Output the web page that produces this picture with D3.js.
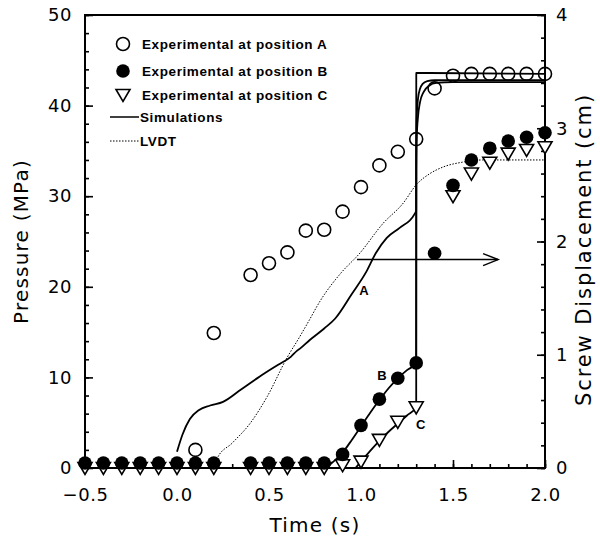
<!DOCTYPE html>
<html><head><meta charset="utf-8">
<script src="https://cdn.jsdelivr.net/npm/d3@7"></script>
<style>body{margin:0;background:#fff;}svg{display:block;}</style>
</head><body><svg id="c" width="600" height="544"></svg>
<script>
// ---- data ----
const expA_t = [0.1,0.2,0.4,0.5,0.6,0.7,0.8,0.9,1.0,1.1,1.2,1.3,1.4,1.5,1.6,1.7,1.8,1.9,2.0];
const expA_p = [2.0,14.9,21.3,22.6,23.8,26.2,26.3,28.3,31.0,33.4,34.9,36.3,41.9,43.3,43.5,43.5,43.5,43.5,43.5];
const expB_t = [-0.5,-0.4,-0.3,-0.2,-0.1,0.0,0.1,0.2,0.4,0.5,0.6,0.7,0.8,0.9,1.0,1.1,1.2,1.3,1.4,1.5,1.6,1.7,1.8,1.9,2.0];
const expB_p = [0.55,0.55,0.55,0.55,0.55,0.55,0.55,0.55,0.55,0.55,0.55,0.55,0.55,1.5,4.7,7.6,9.9,11.6,23.7,31.2,34.0,35.3,36.1,36.5,37.0];
const expC_t = [-0.5,-0.4,-0.3,-0.2,-0.1,0.0,0.1,0.2,0.4,0.5,0.6,0.7,0.8,0.9,1.0,1.1,1.2,1.3,1.5,1.6,1.7,1.8,1.9,2.0];
const expC_p = [0,0,0,0,0,0,0,0,0,0,0,0,0,0.3,0.7,3.1,5.1,6.7,30.0,32.5,33.7,34.7,35.1,35.4];
const simA_t = [0.0,0.03,0.07,0.12,0.18,0.25,0.35,0.45,0.55,0.62,0.65,0.67,0.72,0.8,0.86,0.95,1.03,1.08,1.14,1.21,1.29,1.30,1.3005,2.0];
const simA_p = [1.8,3.7,5.4,6.4,6.9,7.3,8.7,10.1,11.4,12.3,12.9,13.2,14.1,15.4,16.5,19.2,21.7,23.7,25.4,26.5,28.0,28.4,43.6,43.5];
const simB_t = [0.81,0.85,0.9,0.95,1.0,1.05,1.1,1.15,1.2,1.25,1.3,1.3005,1.303,1.31,1.32,1.335,1.36,1.40,2.0];
const simB_p = [0,0.7,1.7,3.1,4.6,6.1,7.5,8.8,9.9,10.8,11.6,36.0,38.8,40.8,41.8,42.4,42.7,42.8,42.8];
const simC_t = [0.97,1.0,1.05,1.1,1.15,1.2,1.25,1.3,1.3005,1.303,1.31,1.32,1.34,1.37,1.41,1.5,2.0];
const simC_p = [0,0.7,1.9,3.0,4.0,4.9,5.8,6.7,33.0,36.5,38.8,40.3,41.5,42.2,42.5,42.6,42.6];
const lvdt_t = [0.2,0.22,0.3,0.4,0.49,0.6,0.66,0.71,0.78,0.89,0.99,1.12,1.23,1.30,1.375,1.45,1.55,1.66,2.0];
const lvdt_cm = [0,0.09,0.22,0.40,0.63,0.98,1.14,1.28,1.48,1.72,1.89,2.16,2.34,2.50,2.60,2.66,2.70,2.72,2.72];
const curveLabels = ["A","B","C"];
const curveLabel_t = [1.016,1.114,1.325];
const curveLabel_p = [19.6,10.3,4.9];
const arrow_t = [0.978,1.745];
const arrow_p = 23.0;
const legendLabels = ["Experimental at position A","Experimental at position B","Experimental at position C","Simulations","LVDT"];
const xTicks = [-0.5,0.0,0.5,1.0,1.5,2.0];
const yTicks = [0,10,20,30,40,50];
const y2Ticks = [0,1,2,3,4];

// ---- layout ----
const L=85,R=545,T=15,B=468;
const svg=d3.select("#c");
const x=d3.scaleLinear().domain([-0.5,2.0]).range([L,R]);
const y=d3.scaleLinear().domain([0,50]).range([B,T]);
const y2=d3.scaleLinear().domain([0,4]).range([B,T]);
const font="'DejaVu Sans', sans-serif";

function styleAxis(g){
  g.select(".domain").remove();
  g.selectAll(".tick line").attr("stroke","#000").attr("stroke-width",1.6);
  g.selectAll("text").attr("font-family",font).attr("font-size",18).attr("fill","#000").attr("letter-spacing",0.6);
}
// minor ticks
svg.append("g").attr("transform",`translate(0,${B})`)
  .call(d3.axisBottom(x).tickValues(d3.range(-5,21).map(d=>d/10)).tickSize(-4).tickFormat("")).call(styleAxis);
svg.append("g").attr("transform",`translate(${L},0)`)
  .call(d3.axisLeft(y).tickValues(d3.range(0,51,2)).tickSize(-4).tickFormat("")).call(styleAxis);
svg.append("g").attr("transform",`translate(${R},0)`)
  .call(d3.axisRight(y2).tickValues(d3.range(0,21).map(d=>d/5)).tickSize(-4).tickFormat("")).call(styleAxis);
// major ticks
svg.append("g").attr("transform",`translate(0,${B})`)
  .call(d3.axisBottom(x).tickValues(xTicks).tickSize(-8).tickPadding(20).tickFormat(d3.format(".1f"))).call(styleAxis);
svg.append("g").attr("transform",`translate(${L},0)`)
  .call(d3.axisLeft(y).tickValues(yTicks).tickSize(-8).tickPadding(13).tickFormat(d3.format("d"))).call(styleAxis);
svg.append("g").attr("transform",`translate(${R},0)`)
  .call(d3.axisRight(y2).tickValues(y2Ticks).tickSize(-8).tickPadding(11).tickFormat(d3.format("d"))).call(styleAxis);
// frame
svg.append("rect").attr("x",L).attr("y",T).attr("width",R-L).attr("height",B-T)
  .attr("fill","none").attr("stroke","#000").attr("stroke-width",2);

// axis titles
svg.append("text").attr("x",(L+R)/2).attr("y",532).attr("text-anchor","middle")
  .attr("font-family",font).attr("font-size",20).attr("letter-spacing",1.2).text("Time (s)");
svg.append("text").attr("transform",`translate(28,${(T+B)/2}) rotate(-90)`).attr("text-anchor","middle")
  .attr("font-family",font).attr("font-size",20).attr("letter-spacing",1.2).text("Pressure (MPa)");
svg.append("text").attr("transform",`translate(591,${(T+B)/2+8}) rotate(-90)`).attr("text-anchor","middle")
  .attr("font-family",font).attr("font-size",21).attr("letter-spacing",1.9).text("Screw Displacement (cm)");

// lines
const line=d3.line().x(d=>x(d[0])).y(d=>y(d[1])).curve(d3.curveMonotoneX);
const line2=d3.line().x(d=>x(d[0])).y(d=>y2(d[1])).curve(d3.curveMonotoneX);
const plot=svg.append("g");
plot.append("path").attr("d",line2(d3.zip(lvdt_t,lvdt_cm))).attr("fill","none").attr("stroke","#000")
  .attr("stroke-width",1).attr("stroke-dasharray","1.5,1.5");
[[simA_t,simA_p],[simB_t,simB_p],[simC_t,simC_p]].forEach(([t,p])=>{
  plot.append("path").attr("d",line(d3.zip(t,p))).attr("fill","none").attr("stroke","#000").attr("stroke-width",1.8);
});
// arrow
const ax0=x(arrow_t[0]),ax1=x(arrow_t[1]),ay=y(arrow_p);
plot.append("line").attr("x1",ax0).attr("x2",ax1).attr("y1",ay).attr("y2",ay).attr("stroke","#000").attr("stroke-width",1.5);
plot.append("path").attr("d",`M${ax1-15},${ay-6}L${ax1},${ay}L${ax1-15},${ay+6}`).attr("fill","none").attr("stroke","#000").attr("stroke-width",1.5);

// markers
const tri="M-7,-5.5L7,-5.5L0,6.5Z";
plot.selectAll(".c").data(d3.zip(expC_t,expC_p)).join("path").attr("d",tri)
  .attr("transform",d=>`translate(${x(d[0])},${y(d[1])})`).attr("fill","#fff").attr("stroke","#000").attr("stroke-width",1.6);
plot.selectAll(".b").data(d3.zip(expB_t,expB_p)).join("circle").attr("cx",d=>x(d[0])).attr("cy",d=>y(d[1]))
  .attr("r",6.8).attr("fill","#000");
plot.selectAll(".a").data(d3.zip(expA_t,expA_p)).join("circle").attr("cx",d=>x(d[0])).attr("cy",d=>y(d[1]))
  .attr("r",6.5).attr("fill","none").attr("stroke","#000").attr("stroke-width",1.6);

// curve labels
curveLabels.forEach((s,i)=>{
  plot.append("text").attr("x",x(curveLabel_t[i])).attr("y",y(curveLabel_p[i])+5).attr("text-anchor","middle")
    .attr("font-family","'Liberation Sans', sans-serif").attr("font-weight","bold").attr("font-size",13).text(s);
});

// legend
const lg=svg.append("g");
const rowsY=[44,71,95,117,141];
const lx=123, tx=142;
lg.append("circle").attr("cx",lx).attr("cy",rowsY[0]).attr("r",6.5).attr("fill","none").attr("stroke","#000").attr("stroke-width",1.6);
lg.append("circle").attr("cx",lx).attr("cy",rowsY[1]).attr("r",6.8).attr("fill","#000");
lg.append("path").attr("d",tri).attr("transform",`translate(${lx},${rowsY[2]})`).attr("fill","#fff").attr("stroke","#000").attr("stroke-width",1.6);
lg.append("line").attr("x1",110).attr("x2",139).attr("y1",rowsY[3]).attr("y2",rowsY[3]).attr("stroke","#000").attr("stroke-width",1.5);
lg.append("line").attr("x1",110).attr("x2",139).attr("y1",rowsY[4]).attr("y2",rowsY[4]).attr("stroke","#000").attr("stroke-width",1).attr("stroke-dasharray","1.5,1.5");
legendLabels.forEach((s,i)=>{
  lg.append("text").attr("x",i<3?tx:140).attr("y",rowsY[i]+5).attr("font-family","'Liberation Sans', sans-serif")
    .attr("font-weight","bold").attr("font-size",13.5).attr("letter-spacing",0.6).text(s);
});
</script></body></html>
